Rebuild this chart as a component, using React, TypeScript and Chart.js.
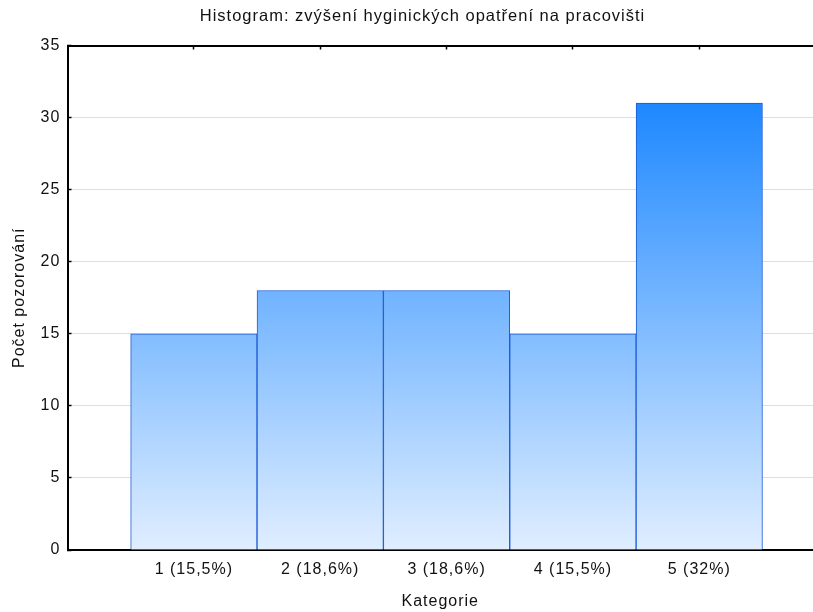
import React, { useEffect, useRef } from "react";
import { Chart, registerables } from "chart.js";

Chart.register(...registerables);

const TITLE = "Histogram: zvýšení hyginických opatření na pracovišti";
const X_TITLE = "Kategorie";
const Y_TITLE = "Počet pozorování";
const CATEGORIES = ["1 (15,5%)", "2 (18,6%)", "3 (18,6%)", "4 (15,5%)", "5 (32%)"];
const CATEGORY_POS = [1, 2, 3, 4, 5];
const COUNTS = [15, 18, 18, 15, 31];
const X_MIN = 0;
const X_MAX = 5.9;
const Y_MIN = 0;
const Y_MAX = 35;
const Y_STEP = 5;

const FONT = '"Liberation Sans", Arial, sans-serif';

export default function App() {
  const ref = useRef<HTMLCanvasElement | null>(null);

  useEffect(() => {
    if (!ref.current) return;
    const spacing = {
      id: "spacing",
      afterLayout(chart: any) {
        // centre the title over the region STATISTICA uses (slightly right of canvas centre)
        if (chart.titleBlock) chart.titleBlock.left = 32;
      },
      beforeDraw(chart: any) {
        try {
          chart.ctx.letterSpacing = "1px";
        } catch (e) {}
      },
    };
    const setTicks = (scale: any) => {
      scale.ticks = CATEGORY_POS.map((v) => ({ value: v }));
    };
    const chart = new Chart(ref.current, {
      type: "bar",
      data: {
        datasets: [
          {
            data: COUNTS.map((y, i) => ({ x: CATEGORY_POS[i], y })),
            backgroundColor: (ctx: any) => {
              const ca = ctx.chart.chartArea;
              if (!ca) return "#6db3ff";
              const g = ctx.chart.ctx.createLinearGradient(0, ca.top, 0, ca.bottom);
              g.addColorStop(0, "#057bff");
              g.addColorStop(1, "#e0eeff");
              return g;
            },
            borderColor: "#1a5ad6",
            borderWidth: 1,
            barPercentage: 1,
            categoryPercentage: 1,
          },
        ],
      },
      options: {
        animation: false,
        responsive: false,
        devicePixelRatio: 1,
        layout: { padding: 0 },
        plugins: {
          legend: { display: false },
          tooltip: { enabled: false },
          title: {
            display: true,
            text: TITLE,
            color: "#111",
            font: { family: FONT, size: 16.5, weight: "normal", lineHeight: 1.2 },
            padding: { top: 7, bottom: 0 },
          },
        },
        scales: {
          x: {
            type: "linear",
            position: "bottom",
            min: X_MIN,
            max: X_MAX,
            offset: false,
            afterBuildTicks: setTicks,
            afterFit: (s: any) => {
              s.height = 62;
            },
            ticks: {
              autoSkip: false,
              maxRotation: 0,
              padding: 14.4,
              color: "#111",
              font: { family: FONT, size: 16, lineHeight: 1.2 },
              callback: (_v: any, i: number) => CATEGORIES[i],
            },
            grid: {
              offset: false,
              drawOnChartArea: false,
              tickLength: -4,
              tickColor: "#000",
              tickWidth: 1.5,
            },
            border: { display: true, color: "#000", width: 2 },
            title: {
              display: true,
              text: X_TITLE,
              color: "#111",
              font: { family: FONT, size: 16, lineHeight: 1.2 },
              padding: { top: 0, bottom: 0.4 },
            },
          },
          x2: {
            type: "linear",
            position: "top",
            min: X_MIN,
            max: X_MAX,
            offset: false,
            afterBuildTicks: setTicks,
            afterFit: (s: any) => {
              s.height = 18.7;
            },
            ticks: { display: false },
            grid: {
              offset: false,
              drawOnChartArea: false,
              tickLength: -4,
              tickColor: "#000",
              tickWidth: 1.5,
            },
            border: { display: true, color: "#000", width: 2 },
          },
          y: {
            type: "linear",
            position: "left",
            min: Y_MIN,
            max: Y_MAX,
            afterFit: (s: any) => {
              s.width = 67.5;
            },
            ticks: {
              stepSize: Y_STEP,
              padding: 11.2,
              color: "#111",
              font: { family: FONT, size: 16, lineHeight: 1.2 },
            },
            grid: {
              color: (c: any) =>
                c.tick && (c.tick.value === Y_MIN || c.tick.value === Y_MAX)
                  ? "rgba(0,0,0,0)"
                  : "#dedede",
              lineWidth: 1,
              tickLength: -4,
              tickColor: "#000",
              tickWidth: 1.5,
            },
            border: { display: true, color: "#000", width: 2 },
            title: {
              display: true,
              text: Y_TITLE,
              color: "#111",
              font: { family: FONT, size: 16, lineHeight: 1.2 },
              padding: { top: 10, bottom: 0 },
            },
          },
        },
      } as any,
      plugins: [spacing],
    });
    return () => chart.destroy();
  }, []);

  return (
    <div style={{ position: "fixed", left: 0, top: 0, width: 813, height: 612, background: "#fff" }}>
      <canvas ref={ref} width={813} height={612} style={{ display: "block" }} />
    </div>
  );
}
